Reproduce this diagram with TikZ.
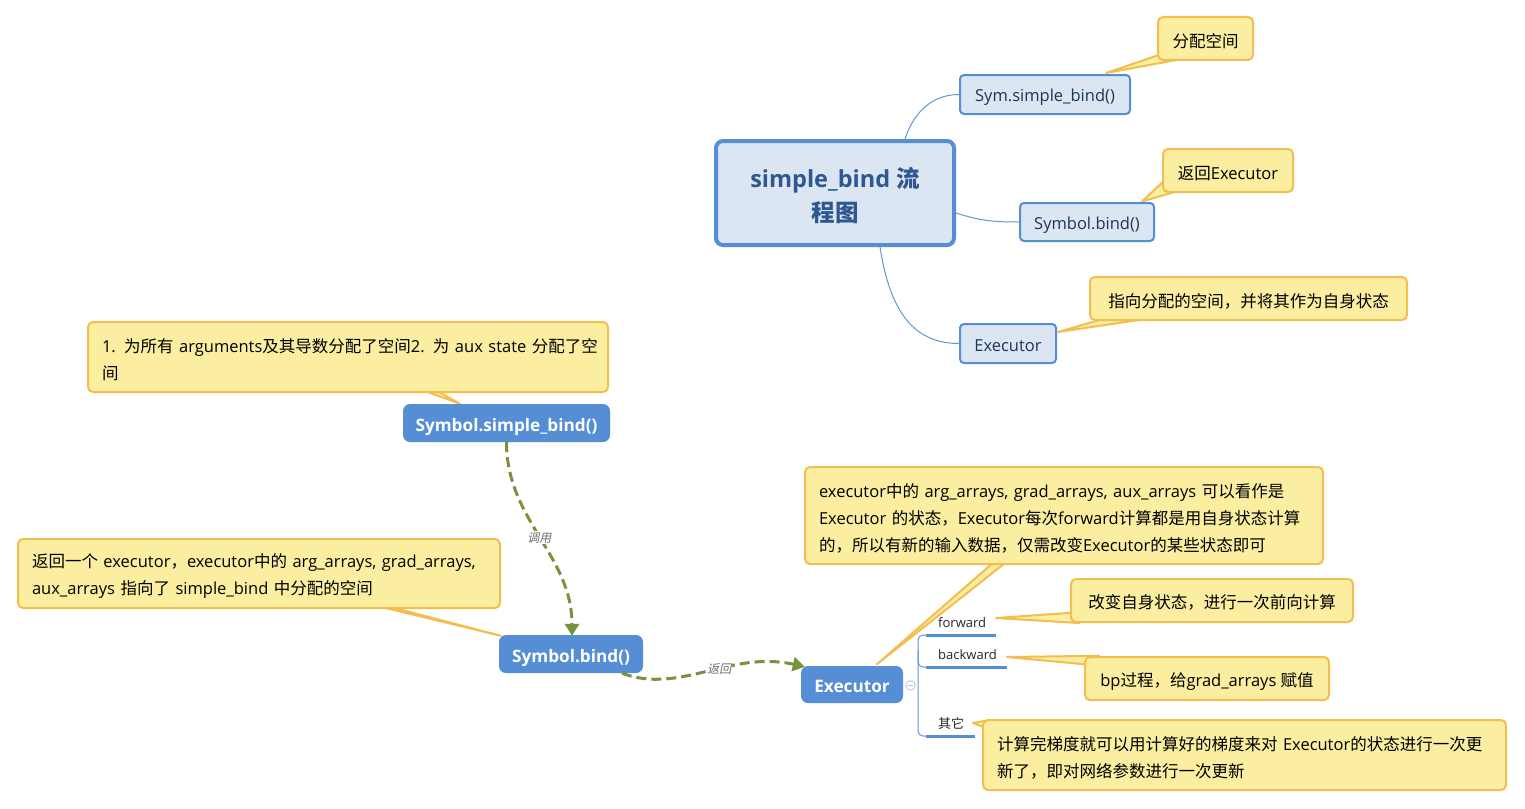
\documentclass[tikz,border=0pt]{standalone}
\usepackage{fontspec}
\setmainfont{Open Sans}
\newfontfamily\latinfont{Open Sans}
\newfontfamily\cjkfont{Noto Sans CJK SC}[AutoFakeSlant=0.2]
\usetikzlibrary{arrows.meta,calc,backgrounds}
\XeTeXinterchartokenstate=1
\newXeTeXintercharclass\CJKcls
\makeatletter
\count@="3000
\loop\ifnum\count@<"3040 \XeTeXcharclass\count@=\CJKcls \advance\count@ 1 \repeat
\count@="4E00
\loop\ifnum\count@<"A000 \XeTeXcharclass\count@=\CJKcls \advance\count@ 1 \repeat
\count@="FF00
\loop\ifnum\count@<"FFF0 \XeTeXcharclass\count@=\CJKcls \advance\count@ 1 \repeat
\makeatother
\XeTeXinterchartoks 0 \CJKcls = {\cjkfont}
\XeTeXinterchartoks 4095 \CJKcls = {\cjkfont}
\XeTeXinterchartoks \CJKcls 0 = {\latinfont}
\XeTeXinterchartoks \CJKcls 4095 = {\latinfont}
\newcommand\dn[2][3pt]{\raisebox{-#1}[\height][\depth]{#2}}
\definecolor{nodeblue}{RGB}{85,142,213}
\definecolor{branchblue}{RGB}{100,150,215}
\definecolor{lightfill}{RGB}{220,230,242}
\definecolor{titleblue}{RGB}{47,88,145}
\definecolor{navy}{RGB}{29,53,87}
\definecolor{cfill}{RGB}{251,238,160}
\definecolor{cborder}{RGB}{242,190,80}
\definecolor{olivegreen}{RGB}{119,147,60}
\definecolor{minusblue}{RGB}{170,195,235}
\definecolor{lblgray}{RGB}{110,110,110}
\begin{document}
\begin{tikzpicture}[x=1pt,y=-1pt,
  light/.style={draw=nodeblue, line width=2, fill=lightfill, rounded corners=4, text=navy, font=\fontsize{16.5}{20}\selectfont, inner sep=0},
  central/.style={draw=nodeblue, line width=4, fill=lightfill, rounded corners=7, text=titleblue, font=\bfseries\fontsize{23.5}{34}\selectfont, inner sep=0, align=center},
  dark/.style={fill=nodeblue, rounded corners=7, text=white, font=\bfseries\fontsize{17.2}{20}\selectfont, inner sep=0},
  callout/.style={draw=cborder, line width=2, fill=cfill, rounded corners=5, text=black, font=\fontsize{16.5}{27}\selectfont, inner ysep=0, inner xsep=14},
  wedgeshape/.style={draw=cborder, line width=2, fill=cfill, line join=round},
  branch/.style={draw=branchblue, line width=1},
  flow/.style={draw=olivegreen, line width=3, dash pattern=on 10pt off 5pt, -{Triangle[length=12pt,width=14pt]}},
  flowlbl/.style={fill=white, text=lblgray, font=\itshape\fontsize{12}{14}\selectfont, inner sep=1},
  topic/.style={text=black!85, font=\fontsize{13}{15}\selectfont, inner sep=0, anchor=west},
  uline/.style={draw=nodeblue, line width=3},
  bracket/.style={draw=branchblue, line width=1, rounded corners=5},
]
\useasboundingbox (0,0) rectangle (1525,808);
\begin{pgfonlayer}{background}
\fill[white] (0,0) rectangle (1525,808);
\end{pgfonlayer}

% upper mind map
\node[central, minimum width=238, minimum height=104] (root) at (835,193) {\dn{simple\_bind 流}\\\dn{程图}};
\node[light, minimum width=170, minimum height=39] (sym) at (1045,94.5) {\dn{Sym.simple\_bind()}};
\node[light, minimum width=134, minimum height=38] (sbind) at (1087,222) {\dn{Symbol.bind()}};
\node[light, minimum width=96, minimum height=39] (exec1) at (1008,343.5) {\dn[2pt]{Executor}};

\node[callout, minimum width=95, minimum height=43, align=center] (c1) at (1205.5,38.5) {\dn{分配空间}};
\node[callout, minimum width=130, minimum height=43, align=center] (c2) at (1228,170.5) {\dn{返回Executor}};
\node[callout, minimum width=317, minimum height=43, align=center] (c3) at (1248.5,298.5) {\dn{指向分配的空间，并将其作为自身状态}};

\draw[branch] ($(root.north)+(70,0)$) .. controls +(8,-25) and +(-28,0) .. (sym.west);
\draw[branch] ($(root.east)+(0,20)$) .. controls +(25,8) and +(-25,0) .. (sbind.west);
\draw[branch] ($(root.south)+(45,0)$) .. controls +(10,65) and +(-45,0) .. (exec1.west);

% lower flow
\node[dark, minimum width=207, minimum height=38] (ssb) at (506.5,423) {\dn[4pt]{Symbol.simple\_bind()}};
\node[dark, minimum width=144, minimum height=38] (bind) at (571,654) {\dn[4pt]{Symbol.bind()}};
\node[dark, minimum width=102, minimum height=37] (exec2) at (852,684.5) {\dn[2pt]{Executor}};

\node[callout, minimum height=70, text width=492, align=left] (c4) at (348,357) {\dn{1. 为所有 arguments及其导数分配了空间2. 为 aux state 分配了空}\\\dn{间}};
\node[callout, minimum height=69, text width=454, align=left] (c5) at (259,573.5) {\dn{返回一个 executor，executor中的 arg\_arrays, grad\_arrays,}\\\dn{aux\_arrays 指向了 simple\_bind 中分配的空间}};
\node[callout, minimum height=97, text width=490, align=left] (c6) at (1064,515.5) {\dn{executor中的 arg\_arrays, grad\_arrays, aux\_arrays 可以看作是}\\\dn{Executor 的状态，Executor每次forward计算都是用自身状态计算}\\\dn{的，所以有新的输入数据，仅需改变Executor的某些状态即可}};
\node[callout, minimum width=282, minimum height=43, align=center] (c7) at (1212,600.5) {\dn[2pt]{改变自身状态，进行一次前向计算}};
\node[callout, minimum width=244, minimum height=43, align=center] (c8) at (1207,678.5) {\dn{bp过程，给grad\_arrays 赋值}};
\node[callout, minimum height=70, text width=495, align=left] (c9) at (1244.5,755) {\dn{计算完梯度就可以用计算好的梯度来对 Executor的状态进行一次更}\\\dn{新了，即对网络参数进行一次更新}};

\draw[flow] (ssb.south) .. controls +(0,78) and +(0,-81) .. ($(bind.north)+(1,1)$) node[pos=0.5, flowlbl] {调用};
\draw[flow] ($(bind.south)+(51,0)$) .. controls (680,695) and (730,650) .. ($(exec2.north west)+(4,1)$) node[pos=0.57, flowlbl] {返回};

% executor branches
\node[topic] (fwd) at (938,622) {\dn[1pt]{forward}};
\node[topic] (bwd) at (938,654) {\dn[1pt]{backward}};
\node[topic] (oth) at (938,722) {\dn[1pt]{其它}};
\coordinate (fwdL) at (926,635); \coordinate (fwdR) at (996,635);
\coordinate (bwdL) at (926,667); \coordinate (bwdR) at (1007,667);
\coordinate (othL) at (926,736); \coordinate (othR) at (975,736);
\draw[uline] (fwdL) -- (fwdR);
\draw[uline] (bwdL) -- (bwdR);
\draw[uline] (othL) -- (othR);
\draw[bracket] (fwdL) -- (918,635) -- (918,736) -- (othL);
\draw[bracket] (918,650) -- (918,667) -- (bwdL);
\node[circle, draw=minusblue, line width=0.8, fill=white, inner sep=0, minimum size=9.5] (fold) at (910.5,685.5) {};
\draw[minusblue, line width=0.8] ($(fold.center)+(-2.5,0)$) -- ($(fold.center)+(2.5,0)$);

% callout pointers
\begin{pgfonlayer}{background}
\draw[wedgeshape] ($(sym.north east)+(-25,-1)$) -- ($(c1.south west)+(12,-9.5)$) -- ($(c1.south west)+(22,-1.5)$) -- cycle;
\draw[wedgeshape] ($(sbind.north east)+(-13,-0.5)$) -- ($(c2.south west)+(9.5,-19)$) -- ($(c2.south west)+(18.6,-2.8)$) -- cycle;
\draw[wedgeshape] ($(exec1.north east)+(1,9)$) -- ($(c3.south west)+(20.8,-4)$) -- ($(c3.south west)+(70,-4)$) -- cycle;
\draw[wedgeshape] ($(ssb.north west)+(57,0)$) -- ($(c4.south west)+(324.6,-7)$) -- ($(c4.south west)+(341.9,-7)$) -- cycle;
\draw[wedgeshape] ($(bind.north west)+(2,1)$) -- ($(c5.south west)+(352,-5)$) -- ($(c5.south west)+(362.2,-5)$) -- cycle;
\draw[wedgeshape] ($(exec2.north west)+(76,-1.5)$) -- ($(c6.south west)+(194.5,-7)$) -- ($(c6.south west)+(207.4,-7)$) -- cycle;
\draw[wedgeshape] ($(fwdR)+(0,-17)$) -- ($(c7.south west)+(9,-10.8)$) -- ($(c7.south west)+(9,0)$) -- cycle;
\draw[wedgeshape] ($(bwdR)+(0,-10)$) -- ($(c8.north west)+(15,-0.2)$) -- ($(c8.north west)+(8,9)$) -- cycle;
\draw[wedgeshape] ($(othR)+(-2,-13)$) -- ($(c9.north west)+(8,1)$) -- ($(c9.north west)+(8,10.5)$) -- cycle;
\end{pgfonlayer}
\end{tikzpicture}
\end{document}
